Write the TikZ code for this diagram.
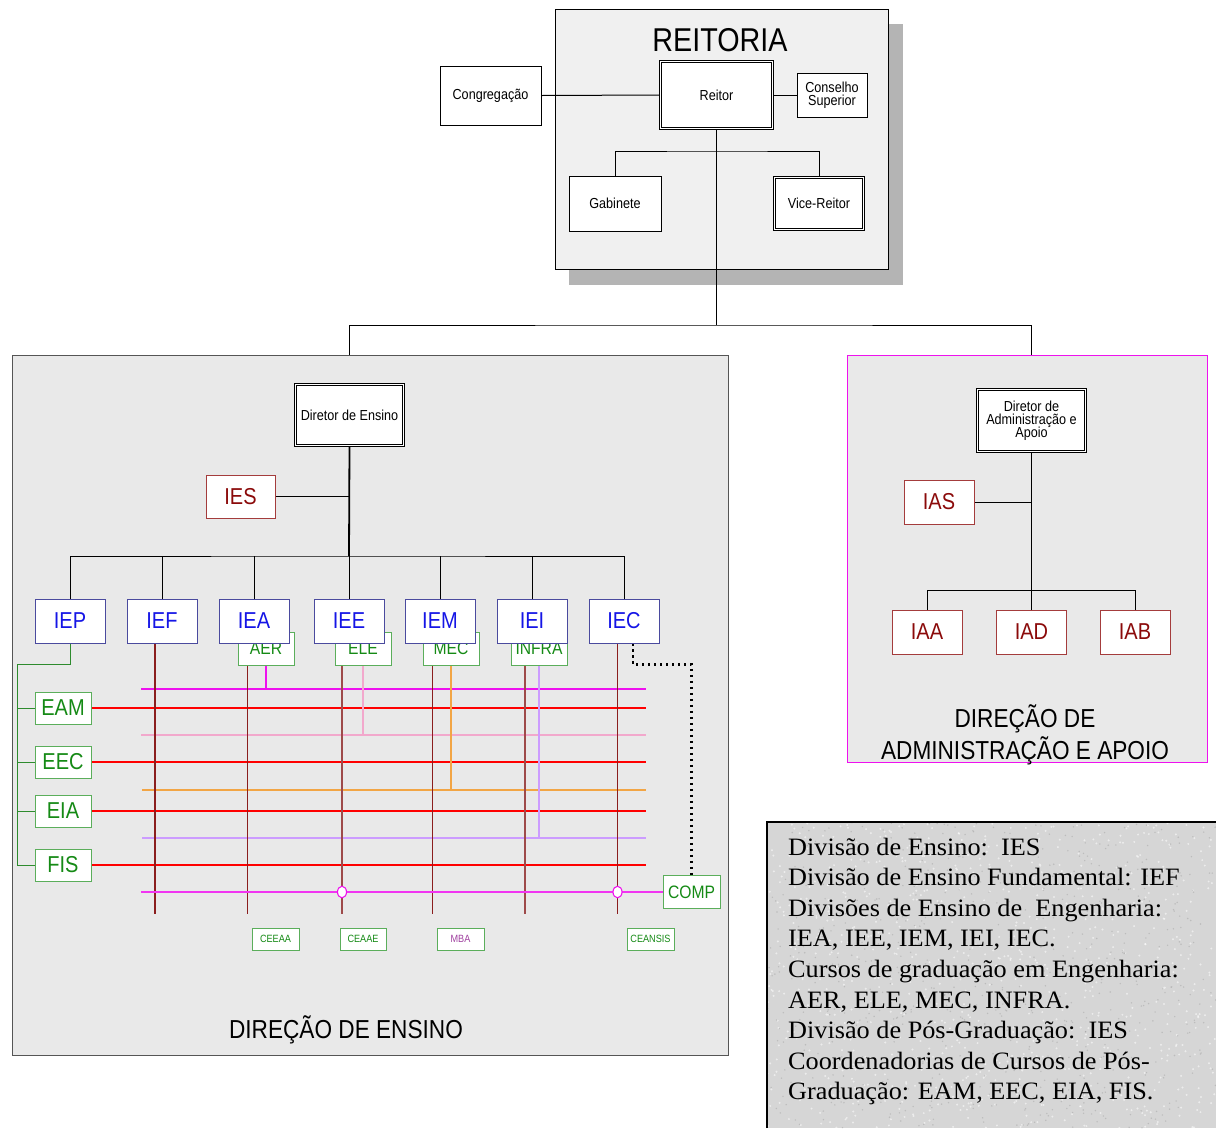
\documentclass[tikz,border=0pt]{standalone}
\usepackage{fontspec}
\setmainfont{Liberation Serif}
\newfontfamily\legfont[FakeStretch=1.05]{Liberation Serif}
\newfontfamily\arn[FakeStretch=0.87]{Liberation Sans}
\newcommand{\fsz}[1]{\fontsize{#1}{#1}\selectfont}
\pgfdeclarelayer{back}
\pgfdeclarelayer{lines}
\pgfsetlayers{back,lines,main}
\definecolor{ieborder}{HTML}{4A4A9E}
\definecolor{ietext}{HTML}{1515E6}
\definecolor{gborder}{HTML}{5BAE5B}
\definecolor{gtext}{HTML}{158A15}
\definecolor{glinec}{HTML}{2E8B2E}
\definecolor{rborder}{HTML}{A43C3C}
\definecolor{rtext}{HTML}{8B0A0A}
\definecolor{marc}{HTML}{8B1E1E}
\definecolor{marc2}{HTML}{9E4A4A}
\definecolor{magc}{HTML}{EE11EE}
\definecolor{pinkc}{HTML}{F2A8CC}
\definecolor{orangec}{HTML}{F2A545}
\definecolor{lavc}{HTML}{CC9CFF}
\definecolor{panelc}{HTML}{E9E9E9}
\definecolor{reitc}{HTML}{F0F0F0}
\definecolor{shadc}{HTML}{B4B4B4}
\definecolor{legc}{HTML}{D6D6D6}
\definecolor{mbac}{HTML}{A040A0}
\definecolor{panelborder}{HTML}{555555}
\begin{document}
\begin{tikzpicture}[x=1pt,y=-1pt,
  box/.style={draw, fill=white, inner sep=0pt, line width=0.8pt, font=\arn\fsz{14.5}, align=center},
  dbox/.style={box, double=white, double distance=1.5pt, line width=0.7pt},
  iebox/.style={box, draw=ieborder, text=ietext, minimum width=70, minimum height=44, font=\arn\fsz{23}},
  rbox/.style={box, draw=rborder, text=rtext, minimum width=70, minimum height=44, font=\arn\fsz{23}},
  gbox/.style={box, draw=gborder, text=gtext, minimum width=56, minimum height=33, font=\arn\fsz{18}},
  pbox/.style={box, draw=gborder, text=gtext, minimum width=56, minimum height=32, font=\arn\fsz{23}},
  sbox/.style={box, draw=gborder, text=gtext, minimum width=47, minimum height=22, font=\arn\fsz{10.5}},
  conn/.style={draw=black, line width=1pt},
  thickconn/.style={draw=black, line width=1.8pt},
  gline/.style={draw=glinec, line width=1pt},
  redl/.style={draw=red, line width=1.4pt},
  marl/.style={draw=marc, line width=1.4pt},
  marl2/.style={draw=marc2, line width=1.4pt},
  magl/.style={draw=magc, line width=1.2pt},
  magthick/.style={draw=magc!85!white, line width=1.9pt},
  pinkl/.style={draw=pinkc, line width=1.2pt},
  orangel/.style={draw=orangec, line width=1.3pt},
  lavl/.style={draw=lavc, line width=1.2pt},
  dotl/.style={draw=black, line width=2.4pt, dash pattern=on 2.4pt off 3.6pt},
  title/.style={font=\arn\fsz{26}, anchor=base, inner sep=0pt},
  legend/.style={font=\legfont\fsz{25}, anchor=base west, inner sep=0pt}
]
\useasboundingbox (0,0) rectangle (1216,1128);

% ---------- backgrounds ----------
\begin{pgfonlayer}{back}
  \fill[shadc] (569,24) rectangle (903,285);
  \filldraw[fill=reitc, draw=black, line width=0.9pt] (555,9) rectangle (888,269);
  \filldraw[fill=panelc, draw=panelborder, line width=0.9pt] (12,355) rectangle (728,1055);
  \filldraw[fill=panelc, draw=magc, line width=0.9pt] (847,355) rectangle (1207,762);
  % legend box with granite texture
  \fill[legc] (767,822) rectangle (1216,1128);
  \begin{scope}
    \clip (767,822) rectangle (1216,1128);
    \pgfmathsetseed{7}
    \foreach \i in {1,...,900} {\fill[white, opacity=0.55] ({767+449*rnd},{822+306*rnd}) circle (1.1);}
    \foreach \i in {1,...,700} {\fill[black!45, opacity=0.35] ({767+449*rnd},{822+306*rnd}) circle (0.8);}
  \end{scope}
  \draw[black, line width=1.6pt] (767,1128) -- (767,822) -- (1216,822);
\end{pgfonlayer}

% ---------- titles ----------
\node[title, font=\arn\fsz{33}] (tReit) at (720,51) {REITORIA};
\node[title] (tEns) at (346,1038) {DIREÇÃO DE ENSINO};
\node[title] (tAdm1) at (1025,727) {DIREÇÃO DE};
\node[title] (tAdm2) at (1025,759) {ADMINISTRAÇÃO E APOIO};

% ---------- Reitoria ----------
\node[box, minimum width=101, minimum height=59] (cong) at (490.5,95.5) {Congregação};
\node[dbox, minimum width=112, minimum height=67] (reitor) at (716.5,95) {Reitor};
\node[box, minimum width=70, minimum height=44] (cons) at (832,95) {Conselho\\[-1pt]Superior};
\node[box, minimum width=92, minimum height=55] (gab) at (615,203.5) {Gabinete};
\node[dbox, minimum width=89, minimum height=52] (vice) at (819,203.5) {Vice-Reitor};

% ---------- Direcao de Ensino ----------
\node[dbox, minimum width=108, minimum height=61] (dirE) at (349.5,415) {Diretor de Ensino};
\node[rbox, minimum width=69, minimum height=43] (ies) at (240.5,496.5) {IES};

% course boxes (behind the division boxes)
\node[gbox] (aer) at (266,648.5) {AER};
\node[gbox] (ele) at (363,648.5) {ELE};
\node[gbox] (mec) at (451,648.5) {MEC};
\node[gbox] (infra) at (539,648.5) {INFRA};

\node[iebox] (iep) at (70,621) {IEP};
\node[iebox] (ief) at (162,621) {IEF};
\node[iebox] (iea) at (254,621) {IEA};
\node[iebox] (iee) at (349,621) {IEE};
\node[iebox] (iem) at (440,621) {IEM};
\node[iebox] (iei) at (532,621) {IEI};
\node[iebox] (iec) at (624,621) {IEC};

\node[pbox] (eam) at (63,708) {EAM};
\node[pbox] (eec) at (63,762) {EEC};
\node[pbox] (eia) at (63,811) {EIA};
\node[pbox] (fis) at (63,865) {FIS};

\node[gbox, minimum width=57] (comp) at (691.5,892) {COMP};

\node[sbox] (ceeaa) at (275.5,939) {CEEAA};
\node[sbox, minimum width=46] (ceaae) at (363,939) {CEAAE};
\node[sbox, text=mbac] (mba) at (460.5,939) {MBA};
\node[sbox] (ceansis) at (650.5,939) {CEANSIS};

% ---------- Direcao de Administracao ----------
\node[dbox, minimum width=108, minimum height=62, font=\arn\fsz{14.5}] (dirA) at (1031.5,420.5) {Diretor de\\[-1.5pt]Administração e\\[-1.5pt]Apoio};
\node[rbox] (ias) at (939,502) {IAS};
\node[rbox] (iaa) at (927,632) {IAA};
\node[rbox] (iad) at (1031.5,632) {IAD};
\node[rbox] (iab) at (1135,632) {IAB};

% ---------- connectors ----------
\begin{pgfonlayer}{lines}
  \coordinate (tb) at (717,325);
  \coordinate (br) at (717,151);
  \coordinate (pE) at (349,355);
  \coordinate (pA) at (1031,355);
  \coordinate (busE) at (349,556);
  \coordinate (busA) at (1031.5,590);
  \coordinate (gx) at (17,865);
  \coordinate (rend) at (646,0);

  \draw[conn] (cong.east) -- (reitor.west);
  \draw[conn] (reitor.east) -- (cons.west);
  \draw[conn] (gab.north) |- (br) -| (vice.north);
  \draw[thickconn] (reitor.south) -- (reitor.south |- tb);
  \draw[conn] (pE) |- (tb) -| (pA);

  \draw[thickconn] (dirE.south) -- (busE);
  \draw[conn] (ies.east) -- (ies.east -| busE);
  \draw[conn] (iep.north) |- (busE) -| (iec.north);
  \foreach \n in {ief,iea,iee,iem,iei} \draw[conn] (\n.north) -- (\n.north |- busE);

  % post-graduation coordination (green)
  \draw[gline] (iep.south) -- ++(0,21) -| (gx);
  \foreach \n in {eam,eec,eia,fis} \draw[gline] (\n.west) -- (\n.west -| gx);

  % horizontal lines
  \foreach \n in {eam,eec,eia,fis} \draw[redl] (\n.east) -- (\n.east -| rend);
  \draw[magl] (aer.south) -- (aer.south |- 0,689);
  \draw[magl] (141,689) -- (646,689);
  \draw[pinkl] (ele.south) -- (ele.south |- 0,735);
  \draw[pinkl] (141,735) -- (646,735);
  \draw[orangel] (mec.south) -- (mec.south |- 0,790);
  \draw[orangel] (142,790) -- (646,790);
  \draw[lavl] (infra.south) -- (infra.south |- 0,838);
  \draw[lavl] (142,838) -- (646,838);

  % vertical lines of the divisions
  \draw[marl] (ief.south -| 155,0) -- (155,914);
  \draw[marl] (aer.south -| 247.5,0) -- (247.5,914);
  \draw[marl2] (ele.south -| 342,0) -- (342,914);
  \draw[marl] (mec.south -| 432.5,0) -- (432.5,914);
  \draw[marl2] (infra.south -| 525,0) -- (525,914);
  \draw[marl] (iec.south -| 617.5,0) -- (617.5,914);

  % bottom magenta line to COMP
  \draw[magthick] (141,892) -- (comp.west);
  \draw[magc, line width=1.1pt, fill=white] (342,892) ellipse (4.5 and 5.8);
  \draw[magc, line width=1.1pt, fill=white] (617.5,892) ellipse (4.5 and 5.8);

  % dotted link IEC - COMP
  \draw[dotl] (iec.south -| 633,0) -- ++(0,21) -| (comp.north);

  % administration
  \draw[conn] (dirA.south) -- (iad.north);
  \draw[conn] (ias.east) -- (ias.east -| busA);
  \draw[conn] (iaa.north) |- (busA) -| (iab.north);
\end{pgfonlayer}

% ---------- legend ----------
\node[legend] (l1) at (788,855) {Divisão de Ensino:\ \ IES};
\node[legend] (l2) at (788,885.6) {Divisão de Ensino Fundamental: IEF};
\node[legend] (l3) at (788,916.2) {Divisões de Ensino de\ \ Engenharia:};
\node[legend] (l4) at (788,946.8) {IEA, IEE, IEM, IEI, IEC.};
\node[legend] (l5) at (788,977.4) {Cursos de graduação em Engenharia:};
\node[legend] (l6) at (788,1008) {AER, ELE, MEC, INFRA.};
\node[legend] (l7) at (788,1038.6) {Divisão de Pós-Graduação:\ \ IES};
\node[legend] (l8) at (788,1069.2) {Coordenadorias de Cursos de Pós-};
\node[legend] (l9) at (788,1099.8) {Graduação: EAM, EEC, EIA, FIS.};
\end{tikzpicture}
\end{document}
